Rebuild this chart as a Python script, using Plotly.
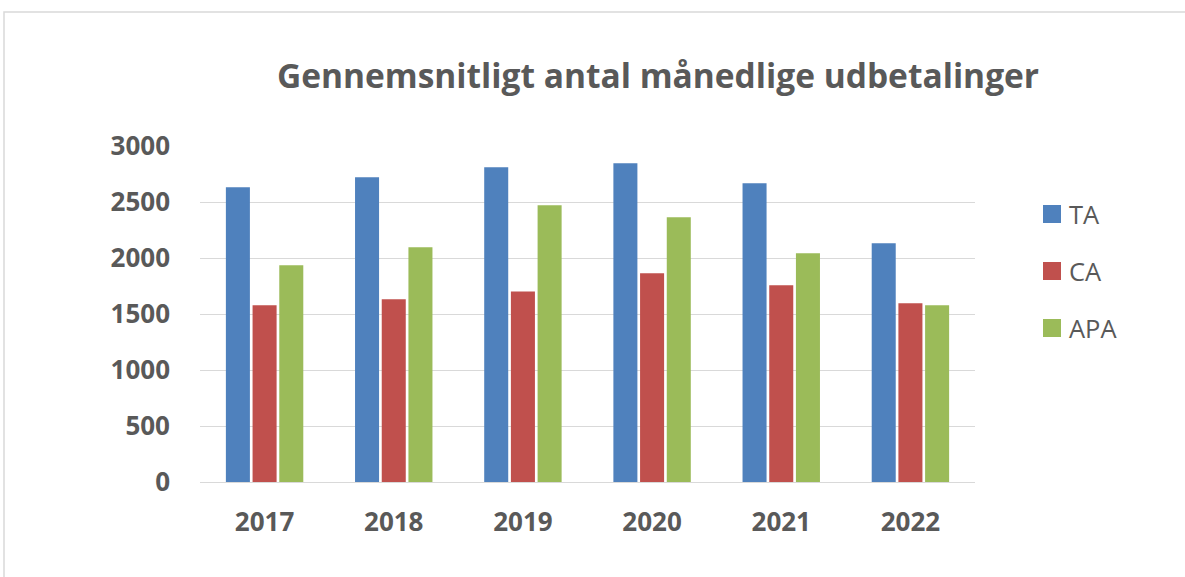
import plotly.graph_objects as go

# Data
years = ['2017', '2018', '2019', '2020', '2021', '2022']
ta = [2631, 2720, 2810, 2845, 2667, 2131]
ca = [1578, 1631, 1702, 1863, 1756, 1595]
apa = [1935, 2095, 2470, 2363, 2042, 1578]
y_ticks = [0, 500, 1000, 1500, 2000, 2500, 3000]
series_names = ['TA', 'CA', 'APA']

COLORS = {'TA': '#4f81bd', 'CA': '#c0504d', 'APA': '#9bbb59'}
TEXT = '#595959'
FONT = 'Open Sans, Lato, sans-serif'

fig = go.Figure()
for name, vals in zip(series_names, [ta, ca, apa]):
    fig.add_trace(go.Bar(x=years, y=vals, name=name, marker_color=COLORS[name],
                         marker_line_width=0, showlegend=False))

W, H = 1185, 577
L, R, T, B = 200, 975, 146, 482
pw, ph = R - L, B - T

fig.update_layout(
    width=W, height=H,
    margin=dict(l=L, r=W - R, t=T, b=H - B),
    paper_bgcolor='white', plot_bgcolor='white',
    barmode='group', bargap=0.38, bargroupgap=0.1,
    title=dict(text='<b>Gennemsnitligt antal månedlige udbetalinger</b>',
               x=658 / W, xanchor='center', y=1 - 76 / H, yanchor='middle',
               font=dict(family=FONT, size=33.5, color=TEXT)),
    font=dict(family=FONT, color=TEXT),
)
fig.update_xaxes(showline=False, showgrid=False, ticks='',
                 tickfont=dict(family=FONT, size=26, color=TEXT, weight='bold'),
                 ticklabelstandoff=22)
fig.update_yaxes(range=[0, 3000], tickvals=y_ticks, showgrid=True, gridcolor='#d9d9d9',
                 gridwidth=1, zeroline=True, zerolinecolor='#d9d9d9', zerolinewidth=1,
                 tickfont=dict(family=FONT, size=26, color=TEXT, weight='bold'),
                 ticks='', ticklabelstandoff=29)

# legend drawn by hand so the swatches match the larger squares
for i, name in enumerate(series_names):
    yc = 214 + i * 57
    fig.add_shape(type='rect', xref='paper', yref='paper',
                  x0=(1043 - L) / pw, x1=(1061 - L) / pw,
                  y0=(B - yc - 9) / ph, y1=(B - yc + 9) / ph,
                  fillcolor=COLORS[name], line_width=0)
    fig.add_annotation(text=name, xref='paper', yref='paper',
                       x=(1067 - L) / pw, y=(B - yc) / ph,
                       xanchor='left', yanchor='middle', showarrow=False,
                       font=dict(family=FONT, size=25.5, color=TEXT))

# outer chart frame
fig.add_shape(type='rect', xref='paper', yref='paper',
              x0=(4 - L) / pw, x1=(W + 5 - L) / pw,
              y0=(B - H - 5) / ph, y1=(B - 12) / ph,
              line=dict(color='#d9d9d9', width=1.5), layer='below')

fig.write_html('out.html', config={'displayModeBar': False},
               post_script="document.body.style.margin='0';")
